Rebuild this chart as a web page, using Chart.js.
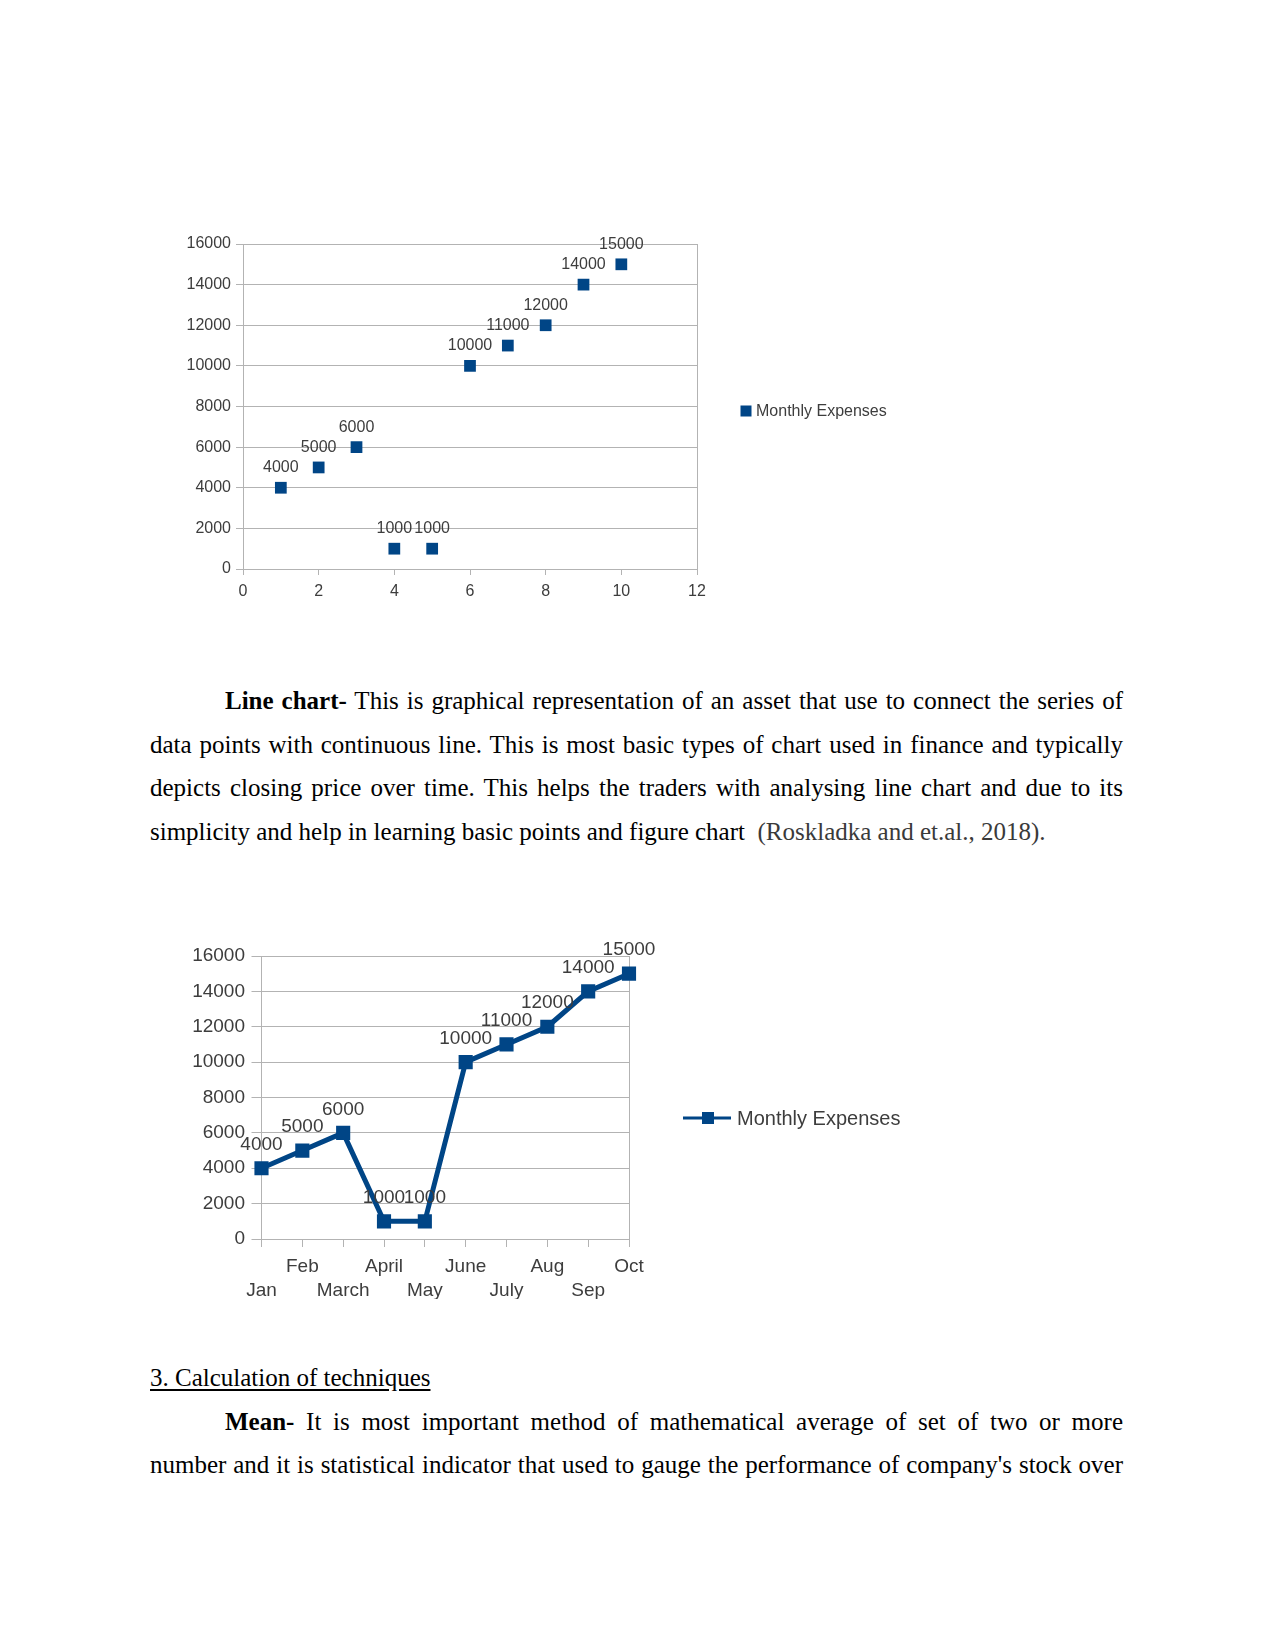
<!DOCTYPE html>
<html>
<head>
<meta charset="utf-8">
<script src="https://cdn.jsdelivr.net/npm/chart.js@4.4.1/dist/chart.umd.min.js"></script>
<style>
  html, body { margin: 0; padding: 0; background: #ffffff; }
  body { width: 1275px; height: 1651px; position: relative; overflow: hidden; }
  canvas { position: absolute; display: block; }
  .txt { position: absolute; left: 150px; width: 973px; font-family: "Liberation Serif", "Times New Roman", serif; font-size: 25px; line-height: 43.5px; color: #000; }
  .ln { height: 43.5px; white-space: nowrap; }
  .j { text-align: justify; text-align-last: justify; white-space: normal; }
  .ind { text-indent: 75px; }
  .cite { color: #3a3a3a; }
  .u { text-decoration: underline; text-underline-offset: 3px; }
</style>
</head>
<body>
<canvas id="c1" width="760" height="400" style="left:170px; top:215px; width:760px; height:400px;"></canvas>

<div class="txt" style="top:679px;">
  <div class="ln j ind"><b>Line chart-</b> This is graphical representation of an asset that use to connect the series of</div>
  <div class="ln j">data points with continuous line. This is most basic types of chart used in finance and typically</div>
  <div class="ln j">depicts closing price over time. This helps the traders with analysing line chart and due to its</div>
  <div class="ln">simplicity and help in learning basic points and figure chart&nbsp; <span class="cite">(Roskladka and et.al., 2018).</span></div>
</div>

<canvas id="c2" width="780" height="420" style="left:170px; top:900px; width:780px; height:420px;"></canvas>

<div class="txt" style="top:1356px;">
  <div class="ln"><span class="u">3. Calculation of techniques</span></div>
  <div class="ln j ind"><b>Mean-</b> It is most important method of mathematical average of set of two or more</div>
  <div class="ln j">number and it is statistical indicator that used to gauge the performance of company's stock over</div>
</div>

<script>
// ---- data ----
const seriesName = 'Monthly Expenses';
const monthIndex = [1, 2, 3, 4, 5, 6, 7, 8, 9, 10];
const months = ['Jan', 'Feb', 'March', 'April', 'May', 'June', 'July', 'Aug', 'Sep', 'Oct'];
const expenses = [4000, 5000, 6000, 1000, 1000, 10000, 11000, 12000, 14000, 15000];
const yTickValues = [0, 2000, 4000, 6000, 8000, 10000, 12000, 14000, 16000];
const xTickValues = [0, 2, 4, 6, 8, 10, 12];

// ---- styles ----
const BLUE = '#004586';
const GRID = '#b3b3b3';
const TXT = '#3d3d3d';
const FONT = '"Liberation Sans", Arial, sans-serif';

function lastGrid(c) {
  return (c.index === c.scale.ticks.length - 1) ? GRID : 'rgba(0,0,0,0)';
}
const plainNum = v => String(v);

function valueLabels(fontSize, offset) {
  return {
    id: 'valueLabels',
    afterDatasetsDraw(chart) {
      const ctx = chart.ctx;
      const meta = chart.getDatasetMeta(0);
      const data = chart.data.datasets[0].data;
      ctx.save();
      ctx.font = fontSize + 'px ' + FONT;
      ctx.fillStyle = TXT;
      ctx.textAlign = 'center';
      ctx.textBaseline = 'middle';
      meta.data.forEach((el, i) => {
        const v = data[i];
        const val = (typeof v === 'object') ? v.y : v;
        ctx.fillText(String(val), el.x, el.y - offset);
      });
      ctx.restore();
    }
  };
}

function legendDraw(opts) {
  return {
    id: 'customLegend',
    afterDraw(chart) {
      const ctx = chart.ctx;
      ctx.save();
      if (opts.line) {
        ctx.strokeStyle = BLUE;
        ctx.lineWidth = opts.lineWidth;
        ctx.beginPath();
        ctx.moveTo(opts.lineX0, opts.y);
        ctx.lineTo(opts.lineX1, opts.y);
        ctx.stroke();
      }
      ctx.fillStyle = BLUE;
      ctx.fillRect(opts.boxX - opts.box / 2, opts.y - opts.box / 2, opts.box, opts.box);
      ctx.font = opts.fontSize + 'px ' + FONT;
      ctx.fillStyle = TXT;
      ctx.textAlign = 'left';
      ctx.textBaseline = 'middle';
      ctx.fillText(seriesName, opts.textX, opts.y + 1);
      ctx.restore();
    }
  };
}

// ---- chart 1 : XY scatter ----
new Chart(document.getElementById('c1'), {
  type: 'scatter',
  data: {
    datasets: [{
      label: seriesName,
      data: monthIndex.map((x, i) => ({ x: x, y: expenses[i] })),
      pointStyle: 'rect',
      pointRadius: 8.3,
      pointHoverRadius: 8.3,
      pointBackgroundColor: BLUE,
      pointBorderWidth: 0,
      showLine: false
    }]
  },
  options: {
    responsive: false,
    animation: false,
    devicePixelRatio: 1,
    layout: { padding: { left: 0, right: 233, top: 29, bottom: 6 } },
    plugins: { legend: { display: false }, tooltip: { enabled: false } },
    scales: {
      x: {
        type: 'linear', min: 0, max: 12,
        afterBuildTicks: s => { s.ticks = xTickValues.map(v => ({ value: v })); },
        afterFit: s => { s.height = 40; },
        grid: { color: lastGrid, tickColor: GRID, tickLength: 6, lineWidth: 1 },
        border: { color: GRID, width: 1 },
        ticks: { color: TXT, font: { family: FONT, size: 16 }, padding: 7, maxRotation: 0, autoSkip: false, callback: plainNum }
      },
      y: {
        type: 'linear', min: 0, max: 16000,
        afterBuildTicks: s => { s.ticks = yTickValues.map(v => ({ value: v })); },
        afterFit: s => { s.width = 73; },
        grid: { color: GRID, tickColor: GRID, tickLength: 7, lineWidth: 1 },
        border: { color: GRID, width: 1 },
        ticks: { color: TXT, font: { family: FONT, size: 16 }, padding: 5, callback: plainNum }
      }
    }
  },
  plugins: [valueLabels(16, 20), legendDraw({ line: false, boxX: 576, box: 11, y: 196, textX: 586, fontSize: 16 })]
});

// ---- chart 2 : line chart ----
new Chart(document.getElementById('c2'), {
  type: 'line',
  data: {
    labels: months,
    datasets: [{
      label: seriesName,
      data: expenses,
      borderColor: BLUE,
      borderWidth: 5,
      tension: 0,
      pointStyle: 'rect',
      pointRadius: 10,
      pointHoverRadius: 10,
      pointBackgroundColor: BLUE,
      pointBorderWidth: 0,
      fill: false
    }]
  },
  options: {
    responsive: false,
    animation: false,
    devicePixelRatio: 1,
    layout: { padding: { left: 0, right: 321, top: 56, bottom: 21 } },
    plugins: { legend: { display: false }, tooltip: { enabled: false } },
    scales: {
      x: {
        type: 'category', offset: false,
        afterFit: s => { s.height = 60; },
        grid: { color: lastGrid, tickColor: GRID, tickLength: 8, lineWidth: 1, offset: false },
        border: { color: GRID, width: 1 },
        ticks: {
          color: TXT, font: { family: FONT, size: 19, lineHeight: 1.25 }, padding: 8, maxRotation: 0, minRotation: 0, autoSkip: false,
          callback: function (v, i) { const l = this.getLabelForValue(v); return (i % 2 === 0) ? ['', l] : l; }
        }
      },
      y: {
        type: 'linear', min: 0, max: 16000,
        afterBuildTicks: s => { s.ticks = yTickValues.map(v => ({ value: v })); },
        afterFit: s => { s.width = 91.5; },
        grid: { color: GRID, tickColor: GRID, tickLength: 10, lineWidth: 1 },
        border: { color: GRID, width: 1 },
        ticks: { color: TXT, font: { family: FONT, size: 19 }, padding: 6.5, callback: plainNum }
      }
    }
  },
  plugins: [valueLabels(19, 23.5), legendDraw({ line: true, lineWidth: 3, lineX0: 513, lineX1: 561, boxX: 538, box: 12, y: 218, textX: 567, fontSize: 20 })]
});
</script>
</body>
</html>
